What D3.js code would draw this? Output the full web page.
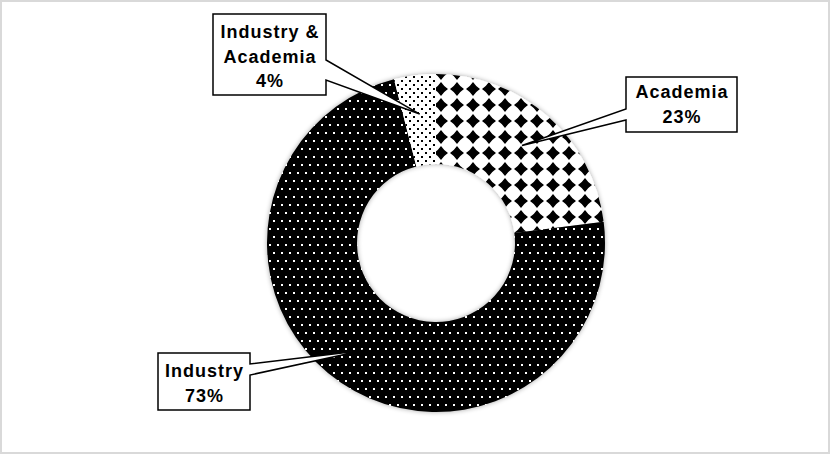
<!DOCTYPE html>
<html>
<head>
<meta charset="utf-8">
<script src="https://cdn.jsdelivr.net/npm/d3@7"></script>
<style>
  html, body { margin: 0; padding: 0; background: #fff; }
  svg { display: block; }
  text { font-family: "Liberation Sans", Arial, sans-serif; font-weight: bold; }
</style>
</head>
<body>
<svg id="chart" width="830" height="454"></svg>
<script>
// ---- data ----
const categories = ["Academia", "Industry", "Industry & Academia"];
const values = [23, 73, 4];
const labelLines = [["Academia", "23%"], ["Industry", "73%"], ["Industry &", "Academia", "4%"]];

// ---- layout ----
const W = 830, H = 454;
const cx = 436, cy = 243, rOuter = 169, rInner = 79, rTip = 130;
const patterns = ["pat-diamond", "pat-whitedots", "pat-blackdots"];
const boxes = [
  {x0: 626, y0: 77, x1: 737, y1: 132, side: "left", wa: 109, wb: 120, base: 98},
  {x0: 158, y0: 353, x1: 250, y1: 410, side: "right", wa: 364, wb: 375, base: 377},
  {x0: 213, y0: 14, x1: 326, y1: 95, side: "right", wa: 60, wb: 80, base: 38}
];
const lineH = 24.5;

const svg = d3.select("#chart");
const defs = svg.append("defs");

// diamond pattern (black diamonds on white)
const pd = defs.append("pattern").attr("id", "pat-diamond")
  .attr("patternUnits", "userSpaceOnUse").attr("width", 16).attr("height", 16)
  .attr("x", 5 - 8).attr("y", 6 - 8);
pd.append("rect").attr("width", 16).attr("height", 16).attr("fill", "#fff");
const dpath = (x, y, s, c) => `M${x},${y - s} Q${x + c},${y - c} ${x + s},${y} Q${x + c},${y + c} ${x},${y + s} Q${x - c},${y + c} ${x - s},${y} Q${x - c},${y - c} ${x},${y - s}Z`;
pd.append("path").attr("d", dpath(8, 8, 7, 2.8)).attr("fill", "#000");

// white dots on black
const pw = defs.append("pattern").attr("id", "pat-whitedots")
  .attr("patternUnits", "userSpaceOnUse").attr("width", 8).attr("height", 16);
pw.append("rect").attr("width", 8).attr("height", 16).attr("fill", "#000");
pw.append("rect").attr("x", 1).attr("y", 1).attr("width", 2).attr("height", 2).attr("fill", "#fff");
pw.append("rect").attr("x", 5).attr("y", 9).attr("width", 2).attr("height", 2).attr("fill", "#fff");

// black dots on white
const pb = defs.append("pattern").attr("id", "pat-blackdots")
  .attr("patternUnits", "userSpaceOnUse").attr("width", 8).attr("height", 8);
pb.append("rect").attr("width", 8).attr("height", 8).attr("fill", "#fff");
pb.append("rect").attr("x", 1).attr("y", 1).attr("width", 2).attr("height", 2).attr("fill", "#000");
pb.append("rect").attr("x", 5).attr("y", 5).attr("width", 2).attr("height", 2).attr("fill", "#000");

// soft shadow
const f = defs.append("filter").attr("id", "shadow")
  .attr("x", "-10%").attr("y", "-10%").attr("width", "120%").attr("height", "120%");
f.append("feGaussianBlur").attr("in", "SourceAlpha").attr("stdDeviation", 2.5).attr("result", "b");
f.append("feComponentTransfer").attr("in", "b").attr("result", "b2")
  .append("feFuncA").attr("type", "linear").attr("slope", 0.35);
const fm = f.append("feMerge");
fm.append("feMergeNode").attr("in", "b2");
fm.append("feMergeNode").attr("in", "SourceGraphic");

// background & border
svg.append("rect").attr("x", 1).attr("y", 1).attr("width", W - 2).attr("height", H - 2)
  .attr("fill", "#fff").attr("stroke", "#d9d9d9").attr("stroke-width", 2);

const pie = d3.pie().sort(null).value(d => d)(values);
const arc = d3.arc().innerRadius(rInner).outerRadius(rOuter);
const tipArc = d3.arc().innerRadius(rTip).outerRadius(rTip);

const g = svg.append("g").attr("transform", `translate(${cx},${cy})`);
g.append("g").attr("filter", "url(#shadow)")
  .selectAll("path").data(pie).join("path")
  .attr("d", arc)
  .attr("fill", (d, i) => `url(#${patterns[i]})`);

// callouts
const cg = svg.append("g");
pie.forEach((d, i) => {
  const b = boxes[i];
  const c = tipArc.centroid(d);
  const tx = cx + c[0], ty = cy + c[1];
  let p;
  if (b.side === "right") {
    p = `M${b.x0},${b.y0} H${b.x1} V${b.wa} L${tx},${ty} L${b.x1},${b.wb} V${b.y1} H${b.x0} Z`;
  } else {
    p = `M${b.x0},${b.y0} H${b.x1} V${b.y1} H${b.x0} V${b.wb} L${tx},${ty} L${b.x0},${b.wa} Z`;
  }
  cg.append("path").attr("d", p).attr("fill", "#fff").attr("stroke", "#000")
    .attr("stroke-width", 1.5).attr("stroke-linejoin", "miter");
  const t = cg.append("text").attr("text-anchor", "middle").attr("font-size", 18)
    .attr("letter-spacing", 1).attr("fill", "#000");
  labelLines[i].forEach((ln, k) => {
    t.append("tspan").attr("x", (b.x0 + b.x1) / 2 + 0.5).attr("y", b.base + k * lineH).text(ln);
  });
});
</script>
</body>
</html>
